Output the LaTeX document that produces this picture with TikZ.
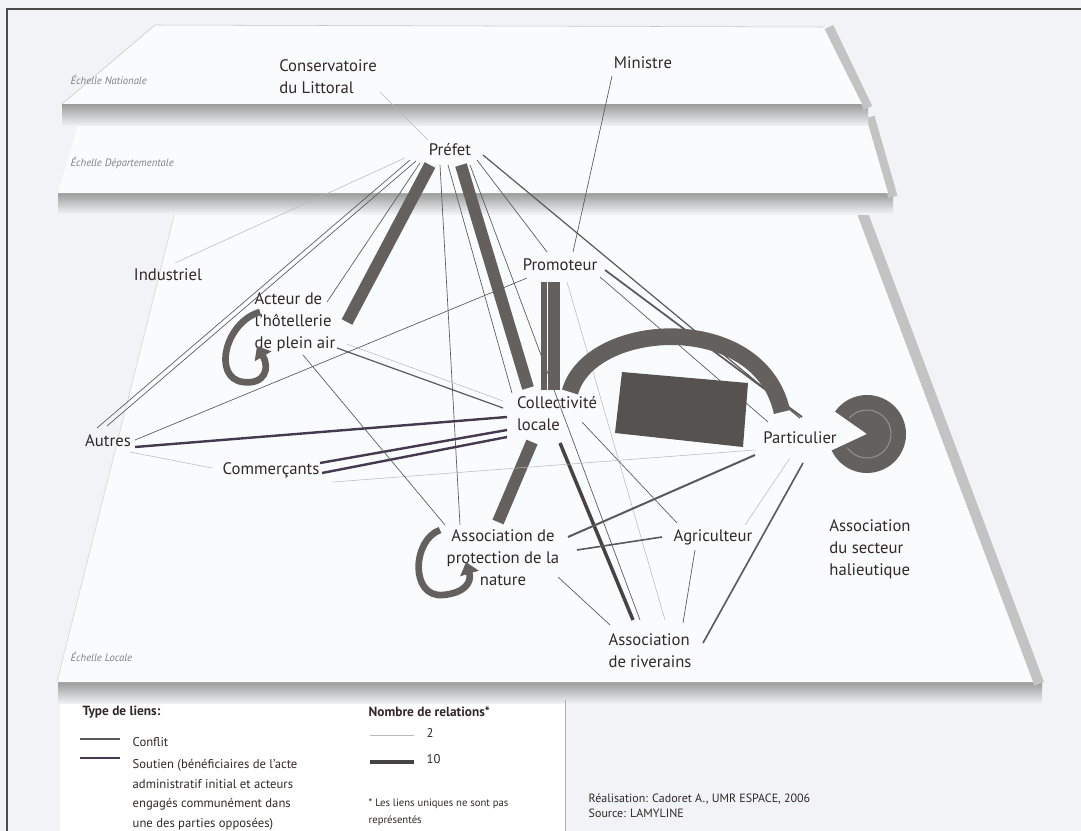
\documentclass[tikz,border=0pt]{standalone}
\usepackage{fontspec}
\setmainfont{PT Sans}
\usetikzlibrary{arrows, arrows.meta, calc}
\definecolor{fond}{RGB}{241,243,246}
\definecolor{plan}{RGB}{250,251,252}
\definecolor{ombre}{RGB}{155,155,155}
\definecolor{texte}{RGB}{50,40,40}
\definecolor{barrec}{RGB}{100,96,94}
\definecolor{soutienc}{RGB}{70,56,78}
\tikzstyle{acteur} = [text=texte, inner sep=2pt, font=\fontsize{12.5}{16.5}\selectfont]
\tikzstyle{echelle} = [text=gray, anchor=west, font=\fontsize{8}{10}\selectfont\itshape]
\tikzstyle{titre} = [text=texte, anchor=west, font=\fontsize{10}{12}\selectfont\bfseries]
\tikzstyle{legende} = [text=texte, font=\fontsize{9.5}{14.6}\selectfont]
\tikzstyle{conflit} = [draw=gray!70!black, line width=0.5pt]
\tikzstyle{faible} = [draw=gray!55, line width=0.4pt]
\tikzstyle{soutien} = [draw=soutienc, line width=1.8pt]
\tikzstyle{barre} = [draw=barrec, line width=9pt]
\tikzstyle{boucle} = [draw=barrec, line width=5pt, -{Triangle[length=9pt, width=14pt]}]

\begin{document}
\begin{tikzpicture}[x=0.75pt, y=-0.75pt, >=latex']
	\useasboundingbox (0,0) rectangle (1081,831);
	\fill[fond] (0,0) rectangle (1081,831);
	\draw[gray!60!black, line width=1.2pt] (7,831) -- (7,9) -- (1081,9);

	% The three planes, from the bottom one up
	\shade[top color=ombre, bottom color=fond] (58,682) rectangle (1042,704);
	\draw[ombre!60, line width=8pt] (862,212) -- (1039,684);
	\fill[plan] (175,212) -- (856,212) -- (1033,682) -- (57,682) -- cycle;
	\draw[gray!35] (175,212) -- (57,682);
	\shade[top color=ombre, bottom color=fond] (58,193) rectangle (893,214);
	\draw[ombre!60, line width=7pt] (870,117) -- (893,197);
	\fill[plan] (80,117) -- (866,117) -- (888,193) -- (58,193) -- cycle;
	\shade[top color=ombre, bottom color=fond] (62,104) rectangle (868,126);
	\draw[ombre!60, line width=7pt] (829,27) -- (868,108);
	\fill[plan] (155,25) -- (823,27) -- (862,104) -- (62,104) -- cycle;
	\draw[gray!45] (62,104) -- (155,25) -- (823,27);

	\node[echelle] (echnat) at (66,80) {Échelle Nationale};
	\node[echelle] (echdep) at (66,163) {Échelle Départementale};
	\node[echelle] (echloc) at (66,657) {Échelle Locale};

	% The legend
	\fill[white] (60,704) rectangle (565,831);
	\draw[gray!60] (565,700) -- (565,831);
	\node[titre] (typeliens) at (78,712) {Type de liens:};
	\node[legende, anchor=west] (conflitlbl) at (128,742) {Conflit};
	\node[legende, anchor=north west, align=left] (soutienlbl) at (128,755)
		{Soutien (bénéficiaires de l'acte\\administratif initial et acteurs\\engagés communément dans\\une des parties opposées)};
	\draw[conflit, line width=0.8pt] ($(conflitlbl.west)+(-48,-3)$) -- ($(conflitlbl.west)+(-8,-3)$);
	\draw[soutien, line width=2pt] ($(conflitlbl.west)+(-48,16)$) -- ($(conflitlbl.west)+(-8,16)$);
	\node[titre] (nombre) at (364,712) {Nombre de relations*};
	\node[legende, anchor=west] (deux) at (422,733) {2};
	\node[legende, anchor=west] (dix) at (422,759) {10};
	\draw[faible, line width=0.3pt] ($(deux.west)+(-52,2)$) -- ($(deux.west)+(-8,2)$);
	\draw[barrec!70!black, line width=2.4pt] ($(dix.west)+(-52,3)$) -- ($(dix.west)+(-8,3)$);
	\node[legende, anchor=north west, align=left, font=\fontsize{8}{12.5}\selectfont] (unique) at (364,794)
		{* Les liens uniques ne sont pas\\représentés};
	\node[legende, anchor=north west, align=left, font=\fontsize{9}{11.5}\selectfont] (source) at (584,789)
		{Réalisation: Cadoret A., UMR ESPACE, 2006\\Source: LAMYLINE};

	% The actors
	\node[acteur, align=left] (conservatoire) at (328,77) {Conservatoire\\du Littoral};
	\node[acteur] (ministre) at (643,63) {Ministre};
	\node[acteur] (prefet) at (450,150) {Préfet};
	\node[acteur] (industriel) at (168,275) {Industriel};
	\node[acteur, align=left] (hotellerie) at (295,322) {Acteur de\\l'hôtellerie\\de plein air};
	\node[acteur] (promoteur) at (560,265) {Promoteur};
	\node[acteur, align=left] (collectivite) at (557,414) {Collectivité\\locale};
	\node[acteur] (autres) at (108,441) {Autres};
	\node[acteur] (commercants) at (271,470) {Commerçants};
	\node[acteur] (particulier) at (800,438) {Particulier};
	\node[acteur, align=center] (apn) at (503,558) {Association de\\protection de la\\nature};
	\node[acteur] (agriculteur) at (713,537) {Agriculteur};
	\node[acteur, align=left] (halieutique) at (870,549) {Association\\du secteur\\halieutique};
	\node[acteur, align=left] (riverains) at (650,651) {Association\\de riverains};

	% Links leaving the prefet
	\draw[faible] ($(conservatoire)+(52,15)$) -- ($(prefet)+(-22,-10)$);
	\draw[faible] ($(prefet)+(-45,8)$) -- ($(industriel)+(7,-12)$);
	\draw[conflit] ($(prefet)+(-40,10)$) -- ($(autres)+(-11,-13)$);
	\draw[conflit] ($(prefet)+(-34,11)$) -- ($(autres)+(-1,-15)$);
	\draw[conflit] ($(prefet)+(-30,13)$) -- ($(hotellerie)+(32,-20)$);
	\draw[barre] ($(prefet)+(-20,15)$) -- ($(hotellerie)+(52,0)$);
	\draw[conflit] ($(prefet)+(-10,15)$) -- ($(apn)+(-43,-33)$);
	\draw[conflit] ($(prefet)+(-2,15)$) -- ($(collectivite)+(-45,-21)$);
	\draw[barre] ($(prefet)+(11,15)$) -- ($(collectivite)+(-29,-26)$);
	\draw[conflit] ($(prefet)+(20,15)$) -- ($(riverains)+(-10,-31)$);
	\draw[conflit] ($(prefet)+(27,10)$) -- ($(promoteur)+(-13,-13)$);
	\draw[conflit, line width=0.9pt] ($(prefet)+(33,5)$) -- ($(particulier)+(0,-20)$);
	\draw[conflit] ($(ministre)+(-31,13)$) -- ($(promoteur)+(13,-13)$);

	% Links leaving the promoteur
	\draw[conflit] ($(promoteur)+(-33,13)$) -- ($(autres)+(27,-1)$);
	\draw[barrec, line width=4pt] ($(promoteur)+(-16,17)$) -- ($(collectivite)+(-13,-24)$);
	\draw[barre] ($(promoteur)+(-6,17)$) -- ($(collectivite)+(-3,-24)$);
	\draw[conflit, line width=1.3pt] ($(promoteur)+(45,5)$) -- ($(particulier)+(2,-21)$);
	\draw[conflit] ($(promoteur)+(40,12)$) -- ($(particulier)+(-32,-16)$);
	\draw[faible] ($(promoteur)+(7,17)$) -- ($(riverains)+(15,-31)$);

	% Links towards the collectivite
	\draw[soutien] ($(autres)+(27,6)$) -- ($(collectivite)+(-50,3)$);
	\draw[soutien] ($(commercants)+(49,-7)$) -- ($(collectivite)+(-50,16)$);
	\draw[soutien] ($(commercants)+(51,3)$) -- ($(collectivite)+(-50,23)$);
	\draw[conflit, line width=0.9pt] ($(hotellerie)+(42,26)$) -- ($(collectivite)+(-54,-6)$);
	\draw[faible] ($(hotellerie)+(52,22)$) -- ($(collectivite)+(-54,-13)$);
	\draw[barre] ($(collectivite)+(-25,28)$) -- ($(apn)+(-5,-36)$);
	\draw[barrec!70!black, line width=2.6pt] ($(collectivite)+(3,29)$) -- ($(riverains)+(-17,-31)$);
	\draw[conflit] ($(collectivite)+(25,8)$) -- ($(agriculteur)+(-36,-14)$);
	\draw[barrec, line width=12.5pt] ($(collectivite)+(13,-22)$)
		.. controls (590,320) and (760,310) .. ($(particulier)+(-18,-26)$);
	\fill[barrec!85!black] (622,372) -- (748,383) -- (743,447) -- (615,433) -- cycle;

	% Remaining links
	\draw[faible] ($(autres)+(22,11)$) -- ($(commercants)+(-59,-2)$);
	\draw[faible] ($(commercants)+(62,12)$) -- ($(particulier)+(-45,12)$);
	\draw[conflit] ($(hotellerie)+(8,33)$) -- ($(apn)+(-58,-33)$);
	\draw[conflit, line width=1.5pt] ($(apn)+(65,-21)$) -- ($(particulier)+(-45,17)$);
	\draw[conflit, line width=1.2pt] ($(apn)+(74,-8)$) -- ($(agriculteur)+(-51,0)$);
	\draw[conflit] ($(apn)+(55,19)$) -- ($(riverains)+(-40,-26)$);
	\draw[conflit] ($(agriculteur)+(-18,13)$) -- ($(riverains)+(33,-28)$);
	\draw[faible] ($(particulier)+(-10,20)$) -- ($(agriculteur)+(32,-12)$);
	\draw[conflit, line width=1.2pt] ($(particulier)+(3,25)$) -- ($(riverains)+(53,-8)$);

	% Links of an actor with itself
	\draw[boucle] ($(hotellerie)+(-35,-10)$) .. controls (225,322) and (212,378) .. (243,382)
		.. controls (265,385) and (270,368) .. ($(hotellerie)+(-38,24)$);
	\draw[boucle] ($(apn)+(-63,-28)$) .. controls (412,540) and (410,598) .. (443,595)
		.. controls (465,593) and (472,582) .. ($(apn)+(-37,4)$);
	\fill[barrec] ($(particulier)+(67,-4)$) -- ++(215:39) arc[start angle=215, end angle=515, radius=39] -- cycle;
	\draw[barrec!70!white, line width=0.8pt] ($(particulier)+(67,-4)$) ++(222:24) arc[start angle=222, end angle=505, radius=24];
\end{tikzpicture}
\end{document}
